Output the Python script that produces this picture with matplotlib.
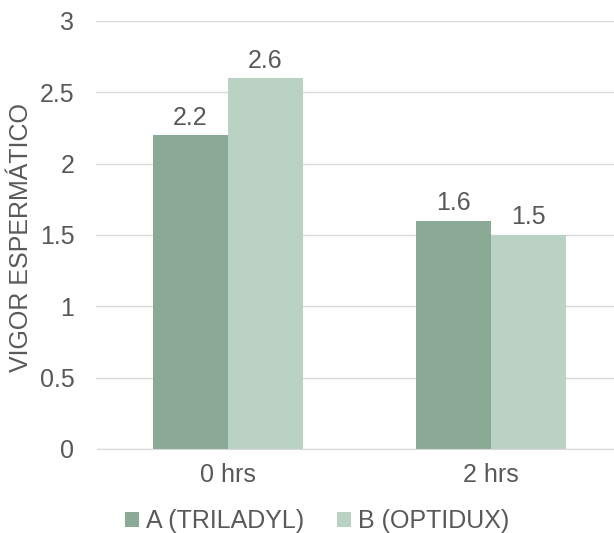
import matplotlib
matplotlib.use('Agg')
import matplotlib.pyplot as plt
import numpy as np

# vigor values per time point
categories = ['0 hrs', '2 hrs']
series_names = ['A (TRILADYL)', 'B (OPTIDUX)']
vigor_a = [2.2, 1.6]
vigor_b = [2.6, 1.5]
yticks = [0, 0.5, 1, 1.5, 2, 2.5, 3]

col_a = '#8BAA96'
col_b = '#BAD2C4'
txt = '#595959'
fs = 18

plt.rcParams['font.family'] = ['Liberation Sans', 'DejaVu Sans']

fig = plt.figure(figsize=(6.14, 5.33), dpi=100)
# plot area runs slightly past the right edge of the canvas
ax = fig.add_axes([96.5 / 614, 1 - 449 / 533, (614 - 96.5) / 614, (449 - 21) / 533])

x = np.arange(len(categories))
w = 0.285
bars_a = ax.bar(x - w / 2, vigor_a, w, color=col_a, label=series_names[0], zorder=2)
bars_b = ax.bar(x + w / 2, vigor_b, w, color=col_b, label=series_names[1], zorder=2)

for bars, vals in ((bars_a, vigor_a), (bars_b, vigor_b)):
    for b, v in zip(bars, vals):
        ax.annotate(f'{v:g}', (b.get_x() + b.get_width() / 2, v),
                    xytext=(0, 4), textcoords='offset points',
                    ha='center', va='bottom', fontsize=fs, color=txt)

ax.set_ylim(0, 3)
ax.set_xlim(-0.5, (614 - 228) / 263)
ax.set_yticks(yticks)
ax.set_yticklabels([f'{t:g}' for t in yticks])
ax.yaxis.grid(True, color='#D9D9D9', linewidth=1, zorder=0)
ax.set_xticks(x)
ax.set_xticklabels(categories)
ax.tick_params(axis='both', length=0, labelsize=fs, colors=txt)
ax.tick_params(axis='x', pad=10)
ax.tick_params(axis='y', pad=16)
for s in ['top', 'right', 'left']:
    ax.spines[s].set_visible(False)
ax.spines['bottom'].set_color('#D9D9D9')

fig.text(21 / 614, 1 - 238 / 533, 'VIGOR ESPERMÁTICO', rotation=90,
         ha='center', va='center', fontsize=fs, color=txt)

leg = fig.legend(loc='center', bbox_to_anchor=(317.5 / 614, 1 - 521 / 533), ncol=2,
                 frameon=False, fontsize=fs, handlelength=0.56, handleheight=0.56,
                 handletextpad=0.28, columnspacing=1.32, borderpad=0, borderaxespad=0)
for t in leg.get_texts():
    t.set_color(txt)

fig.savefig('out.png', dpi=100)
